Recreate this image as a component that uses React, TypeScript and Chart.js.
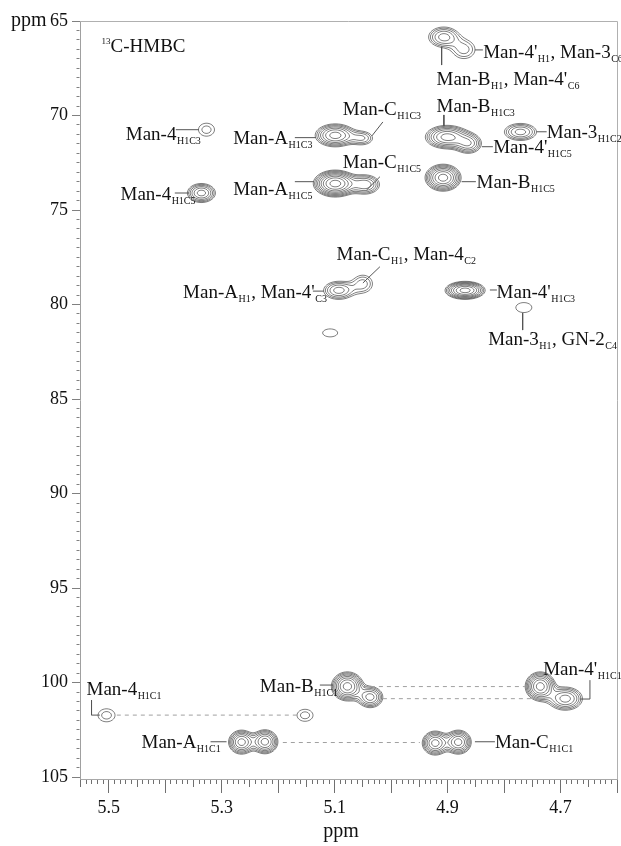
import React, { useEffect, useRef } from 'react';
import { Chart, registerables } from 'chart.js';

Chart.register(...registerables);

// ---- Cross peaks: 1H shift (ppm), 13C shift (ppm), widths (ppm), relative intensity ----
const PEAK_H = [5.327, 5.336, 5.099, 5.051, 5.099, 5.046, 4.907, 4.871, 4.901, 4.863, 4.771, 4.908, 5.093, 5.05, 4.869, 4.765, 5.108, 5.504, 5.1525, 5.0775, 5.037, 4.736, 4.6915, 4.922, 4.881, 5.265, 5.2234];
const PEAK_C = [70.75, 74.1, 71.05, 71.2, 73.6, 73.65, 65.85, 66.51, 71.14, 71.49, 70.87, 73.29, 79.25, 78.9, 79.25, 80.16, 81.5, 101.73, 101.73, 100.2, 100.77, 100.2, 100.85, 103.2, 103.15, 103.15, 103.13];
const PEAK_SIG_H = [0.016, 0.0146, 0.0192, 0.0142, 0.0184, 0.016, 0.0173, 0.017, 0.0208, 0.0142, 0.0185, 0.0161, 0.0173, 0.0147, 0.0179, 0.0225, 0.0211, 0.017, 0.016, 0.0143, 0.0131, 0.0134, 0.0178, 0.0124, 0.0124, 0.0124, 0.0124];
const PEAK_SIG_C = [0.387, 0.296, 0.329, 0.265, 0.338, 0.317, 0.345, 0.416, 0.335, 0.317, 0.293, 0.36, 0.31, 0.393, 0.24, 0.418, 0.334, 0.388, 0.358, 0.387, 0.327, 0.387, 0.36, 0.344, 0.344, 0.344, 0.344];
const PEAK_AMP = [1.48, 4.23, 5.5, 2.2, 9.3, 3.5, 3.25, 1.925, 5.5, 3.5, 3.25, 7.15, 3.25, 1.925, 7.15, 1.22, 1.22, 1.48, 1.48, 7.15, 4.23, 7.15, 4.23, 5.5, 5.5, 5.5, 5.5];

// contour levels: base * ratio^k
const CONTOUR_BASE = 1;
const CONTOUR_RATIO = 1.3;

// ---- Axes ----
const X_MIN = 4.6;
const X_MAX = 5.551;
const Y_MIN = 65;
const Y_MAX = 105.1;
const X_LABELS = [5.5, 5.3, 5.1, 4.9, 4.7];
const Y_LABELS = [65, 70, 75, 80, 85, 90, 95, 100, 105];

// ---- Annotations ----
const LABELS: { h: number; c: number; parts: [string, string][] }[] = [
  { h: 5.4699, c: 71.3, parts: [['Man-4', 'H1C3']] },
  { h: 5.4793, c: 74.47, parts: [['Man-4', 'H1C5']] },
  { h: 5.2798, c: 71.51, parts: [['Man-A', 'H1C3']] },
  { h: 5.2798, c: 74.21, parts: [['Man-A', 'H1C5']] },
  { h: 5.0855, c: 69.97, parts: [['Man-C', 'H1C3']] },
  { h: 5.0855, c: 72.79, parts: [['Man-C', 'H1C5']] },
  { h: 4.8369, c: 66.97, parts: [["Man-4'", 'H1'], [', Man-3', 'C6']] },
  { h: 4.9195, c: 68.39, parts: [['Man-B', 'H1'], [", Man-4'", 'C6']] },
  { h: 4.9195, c: 69.8, parts: [['Man-B', 'H1C3']] },
  { h: 4.7246, c: 71.21, parts: [['Man-3', 'H1C2']] },
  { h: 4.8192, c: 72.0, parts: [["Man-4'", 'H1C5']] },
  { h: 4.8486, c: 73.85, parts: [['Man-B', 'H1C5']] },
  { h: 5.0966, c: 77.65, parts: [['Man-C', 'H1'], [', Man-4', 'C2']] },
  { h: 5.3684, c: 79.67, parts: [['Man-A', 'H1'], [", Man-4'", 'C3']] },
  { h: 4.8132, c: 79.67, parts: [["Man-4'", 'H1C3']] },
  { h: 4.8281, c: 82.14, parts: [['Man-3', 'H1'], [', GN-2', 'C4']] },
  { h: 5.5395, c: 100.66, parts: [['Man-4', 'H1C1']] },
  { h: 5.2325, c: 100.49, parts: [['Man-B', 'H1C1']] },
  { h: 5.4421, c: 103.48, parts: [['Man-A', 'H1C1']] },
  { h: 4.7307, c: 99.6, parts: [["Man-4'", 'H1C1']] },
  { h: 4.8162, c: 103.48, parts: [['Man-C', 'H1C1']] },
];

const LEADERS: number[][][] = [
  [[5.3813, 70.75], [5.3406, 70.75]],
  [[5.3831, 74.1], [5.3583, 74.1]],
  [[5.1705, 71.17], [5.1333, 71.17]],
  [[5.1705, 73.5], [5.1368, 73.5]],
  [[5.0146, 70.34], [5.0341, 71.08]],
  [[5.0199, 73.24], [5.0435, 73.94]],
  [[4.8516, 66.53], [4.8375, 66.53]],
  [[4.9106, 66.36], [4.9106, 67.33]],
  [[4.9066, 69.97], [4.9066, 70.56]],
  [[4.7423, 70.86], [4.7246, 70.86]],
  [[4.8392, 71.65], [4.8198, 71.65]],
  [[4.8752, 73.5], [4.8499, 73.5]],
  [[5.0199, 78.0], [5.05, 78.86]],
  [[5.1386, 79.29], [5.1191, 79.29]],
  [[4.8251, 79.23], [4.8127, 79.23]],
  [[4.7671, 80.45], [4.7671, 81.35]],
  [[5.5306, 100.93], [5.5306, 101.72], [5.5159, 101.72]],
  [[5.1262, 100.13], [5.1032, 100.13]],
  [[5.3198, 103.13], [5.2915, 103.13]],
  [[4.6656, 100.87], [4.6479, 100.87], [4.6479, 99.87]],
  [[4.8516, 103.13], [4.8162, 103.13]],
];

const DASH_C = [100.21, 100.85, 101.72, 103.17];
const DASH_FROM = [5.05, 5.0146, 5.4858, 5.1918];
const DASH_TO = [4.7631, 4.7276, 5.167, 4.9491];

const TITLE_POS = { h: 5.5129, c: 66.64 };

const SERIF = "'Liberation Serif', 'Times New Roman', serif";

function marching(ctx: CanvasRenderingContext2D, f: Float32Array, W: number, H: number, ox: number, oy: number, L: number) {
  ctx.beginPath();
  for (let j = 0; j < H - 1; j++) {
    const r0 = j * W;
    const r1 = r0 + W;
    for (let i = 0; i < W - 1; i++) {
      const a = f[r0 + i], b = f[r0 + i + 1], c = f[r1 + i + 1], d = f[r1 + i];
      let idx = 0;
      if (a >= L) idx |= 8;
      if (b >= L) idx |= 4;
      if (c >= L) idx |= 2;
      if (d >= L) idx |= 1;
      if (idx === 0 || idx === 15) continue;
      const x = ox + i, y = oy + j;
      const T = () => [x + (L - a) / (b - a), y];
      const R = () => [x + 1, y + (L - b) / (c - b)];
      const B = () => [x + (L - d) / (c - d), y + 1];
      const Lf = () => [x, y + (L - a) / (d - a)];
      const seg = (p: number[], q: number[]) => { ctx.moveTo(p[0], p[1]); ctx.lineTo(q[0], q[1]); };
      switch (idx) {
        case 1: case 14: seg(Lf(), B()); break;
        case 2: case 13: seg(B(), R()); break;
        case 3: case 12: seg(Lf(), R()); break;
        case 4: case 11: seg(T(), R()); break;
        case 5: seg(T(), R()); seg(Lf(), B()); break;
        case 6: case 9: seg(T(), B()); break;
        case 7: case 8: seg(Lf(), T()); break;
        case 10: seg(Lf(), T()); seg(B(), R()); break;
      }
    }
  }
  ctx.stroke();
}

const contourPlugin = {
  id: 'contours',
  beforeDatasetsDraw(chart: any) {
    const { ctx, chartArea, scales } = chart;
    const xs = scales.x, ys = scales.y;
    const x0 = Math.floor(chartArea.left), y0 = Math.floor(chartArea.top);
    const W = Math.ceil(chartArea.right) - x0 + 1;
    const H = Math.ceil(chartArea.bottom) - y0 + 1;
    const hv = new Float64Array(W), cv = new Float64Array(H);
    for (let i = 0; i < W; i++) hv[i] = xs.getValueForPixel(x0 + i);
    for (let j = 0; j < H; j++) cv[j] = ys.getValueForPixel(y0 + j);
    const field = new Float32Array(W * H);
    const gx = new Float64Array(W), gy = new Float64Array(H);
    for (let p = 0; p < PEAK_H.length; p++) {
      const h = PEAK_H[p], c = PEAK_C[p], sh = PEAK_SIG_H[p], sc = PEAK_SIG_C[p], A = PEAK_AMP[p];
      let i0 = W, i1 = -1, j0 = H, j1 = -1;
      for (let i = 0; i < W; i++) {
        const d = (hv[i] - h) / sh;
        if (Math.abs(d) < 5) { gx[i] = Math.exp(-0.5 * d * d); if (i < i0) i0 = i; i1 = i; }
      }
      for (let j = 0; j < H; j++) {
        const d = (cv[j] - c) / sc;
        if (Math.abs(d) < 5) { gy[j] = Math.exp(-0.5 * d * d); if (j < j0) j0 = j; j1 = j; }
      }
      for (let j = j0; j <= j1; j++) {
        const r = j * W;
        const a = A * gy[j];
        for (let i = i0; i <= i1; i++) field[r + i] += a * gx[i];
      }
    }
    let fmax = 0;
    for (let k = 0; k < field.length; k++) if (field[k] > fmax) fmax = field[k];
    ctx.save();
    ctx.beginPath();
    ctx.rect(chartArea.left, chartArea.top, chartArea.right - chartArea.left, chartArea.bottom - chartArea.top);
    ctx.clip();
    ctx.strokeStyle = '#3a3a3a';
    ctx.lineWidth = 0.65;
    for (let k = 0; k < 30; k++) {
      const L = CONTOUR_BASE * Math.pow(CONTOUR_RATIO, k);
      if (L > fmax) break;
      marching(ctx, field, W, H, x0, y0, L);
    }
    ctx.restore();
  },
  afterDraw(chart: any) {
    const { ctx, chartArea, scales } = chart;
    const xs = scales.x, ys = scales.y;
    ctx.save();
    // frame (top / right)
    ctx.strokeStyle = '#b0b0b0';
    ctx.lineWidth = 1;
    ctx.beginPath();
    ctx.moveTo(chartArea.left, Math.round(chartArea.top) + 0.5);
    ctx.lineTo(Math.round(chartArea.right) + 0.5, Math.round(chartArea.top) + 0.5);
    ctx.lineTo(Math.round(chartArea.right) + 0.5, chartArea.bottom);
    ctx.stroke();

    ctx.fillStyle = '#111';
    ctx.textAlign = 'left';
    ctx.textBaseline = 'alphabetic';
    for (const lab of LABELS) {
      let x = xs.getPixelForValue(lab.h);
      const y = ys.getPixelForValue(lab.c);
      for (const [main, sub] of lab.parts) {
        ctx.font = `19px ${SERIF}`;
        ctx.fillText(main, x, y);
        x += ctx.measureText(main).width;
        if (sub) {
          ctx.font = `10px ${SERIF}`;
          ctx.fillText(sub, x + 0.5, y + 4);
          x += ctx.measureText(sub).width + 1;
        }
      }
    }
    // spectrum title
    {
      let x = xs.getPixelForValue(TITLE_POS.h);
      const y = ys.getPixelForValue(TITLE_POS.c);
      ctx.font = `9px ${SERIF}`;
      ctx.fillText('13', x, y - 8);
      x += ctx.measureText('13').width;
      ctx.font = `19px ${SERIF}`;
      ctx.fillText('C-HMBC', x, y);
    }
    // axis titles
    ctx.font = `20px ${SERIF}`;
    ctx.textAlign = 'center';
    ctx.fillText('ppm', 341, 837);
    ctx.textAlign = 'left';
    ctx.fillText('ppm', 11, 26);
    ctx.restore();
  },
};

const X_TICKS: number[] = [];
for (let n = Math.ceil(X_MIN * 100 - 1e-6); n <= Math.floor(X_MAX * 100 + 1e-6); n++) X_TICKS.push(n / 100);
const Y_TICKS: number[] = [];
for (let n = Y_MIN * 2; n <= Math.floor(Y_MAX * 2); n++) Y_TICKS.push(n / 2);

export default function App() {
  const ref = useRef<HTMLCanvasElement | null>(null);
  useEffect(() => {
    if (!ref.current) return;
    const datasets: any[] = [
      {
        label: 'peaks',
        data: PEAK_H.map((h, i) => ({ x: h, y: PEAK_C[i] })),
        pointRadius: 0,
        showLine: false,
      },
    ];
    DASH_C.forEach((c, i) => {
      datasets.push({
        label: 'dash' + i,
        data: [{ x: DASH_FROM[i], y: c }, { x: DASH_TO[i], y: c }],
        showLine: true,
        borderColor: '#a0a0a0',
        borderWidth: 1,
        borderDash: [4, 4],
        pointRadius: 0,
      });
    });
    LEADERS.forEach((pts, i) => {
      datasets.push({
        label: 'leader' + i,
        data: pts.map((p) => ({ x: p[0], y: p[1] })),
        showLine: true,
        borderColor: '#555',
        borderWidth: 1,
        pointRadius: 0,
        tension: 0,
      });
    });

    const chart = new Chart(ref.current, {
      type: 'scatter',
      data: { datasets },
      plugins: [contourPlugin],
      options: {
        animation: false,
        responsive: false,
        devicePixelRatio: 1,
        events: [],
        layout: { padding: { top: 21, right: 4, left: 0, bottom: 0 } },
        plugins: { legend: { display: false }, tooltip: { enabled: false } },
        scales: {
          x: {
            type: 'linear',
            position: 'bottom',
            reverse: true,
            min: X_MIN,
            max: X_MAX,
            afterBuildTicks: (s: any) => { s.ticks = X_TICKS.map((v) => ({ value: v })); },
            afterFit: (s: any) => { s.height = 67; },
            ticks: {
              autoSkip: false,
              maxRotation: 0,
              minRotation: 0,
              padding: 4,
              color: '#111',
              font: { family: SERIF, size: 18 },
              callback: (v: any) => {
                const n = Math.round(Number(v) * 100);
                return X_LABELS.some((l) => Math.round(l * 100) === n) ? (n / 100).toFixed(1) : '';
              },
            },
            grid: {
              drawOnChartArea: false,
              drawTicks: true,
              tickLength: 14,
              tickColor: '#707070',
              tickWidth: 1,
              tickBorderDash: (ctx: any) => {
                const n = Math.round(ctx.tick.value * 100);
                if (n % 10 === 0) return [];
                if (n % 5 === 0) return [7, 100];
                return [4, 100];
              },
            },
            border: { display: true, color: '#a8a8a8', width: 1 },
          },
          y: {
            type: 'linear',
            position: 'left',
            reverse: true,
            min: Y_MIN,
            max: Y_MAX,
            afterBuildTicks: (s: any) => { s.ticks = Y_TICKS.map((v) => ({ value: v })); },
            afterFit: (s: any) => { s.width = 80; },
            ticks: {
              autoSkip: false,
              padding: 4,
              color: '#111',
              font: { family: SERIF, size: 18 },
              callback: (v: any) => (Y_LABELS.includes(Number(v)) ? String(v) : ''),
            },
            grid: {
              drawOnChartArea: false,
              drawTicks: true,
              tickLength: 8,
              tickColor: '#808080',
              tickWidth: 1,
              tickBorderDash: (ctx: any) => {
                const v = ctx.tick.value;
                if (Math.abs(v % 5) < 1e-6) return [];
                return [0, 4.5, 3, 100];
              },
            },
            border: { display: true, color: '#a0a0a0', width: 1 },
          },
        },
      } as any,
    });
    return () => chart.destroy();
  }, []);

  return (
    <div style={{ position: 'absolute', left: 0, top: 0, width: 621, height: 846, background: '#fff' }}>
      <canvas ref={ref} width={621} height={846} style={{ display: 'block' }} />
    </div>
  );
}
